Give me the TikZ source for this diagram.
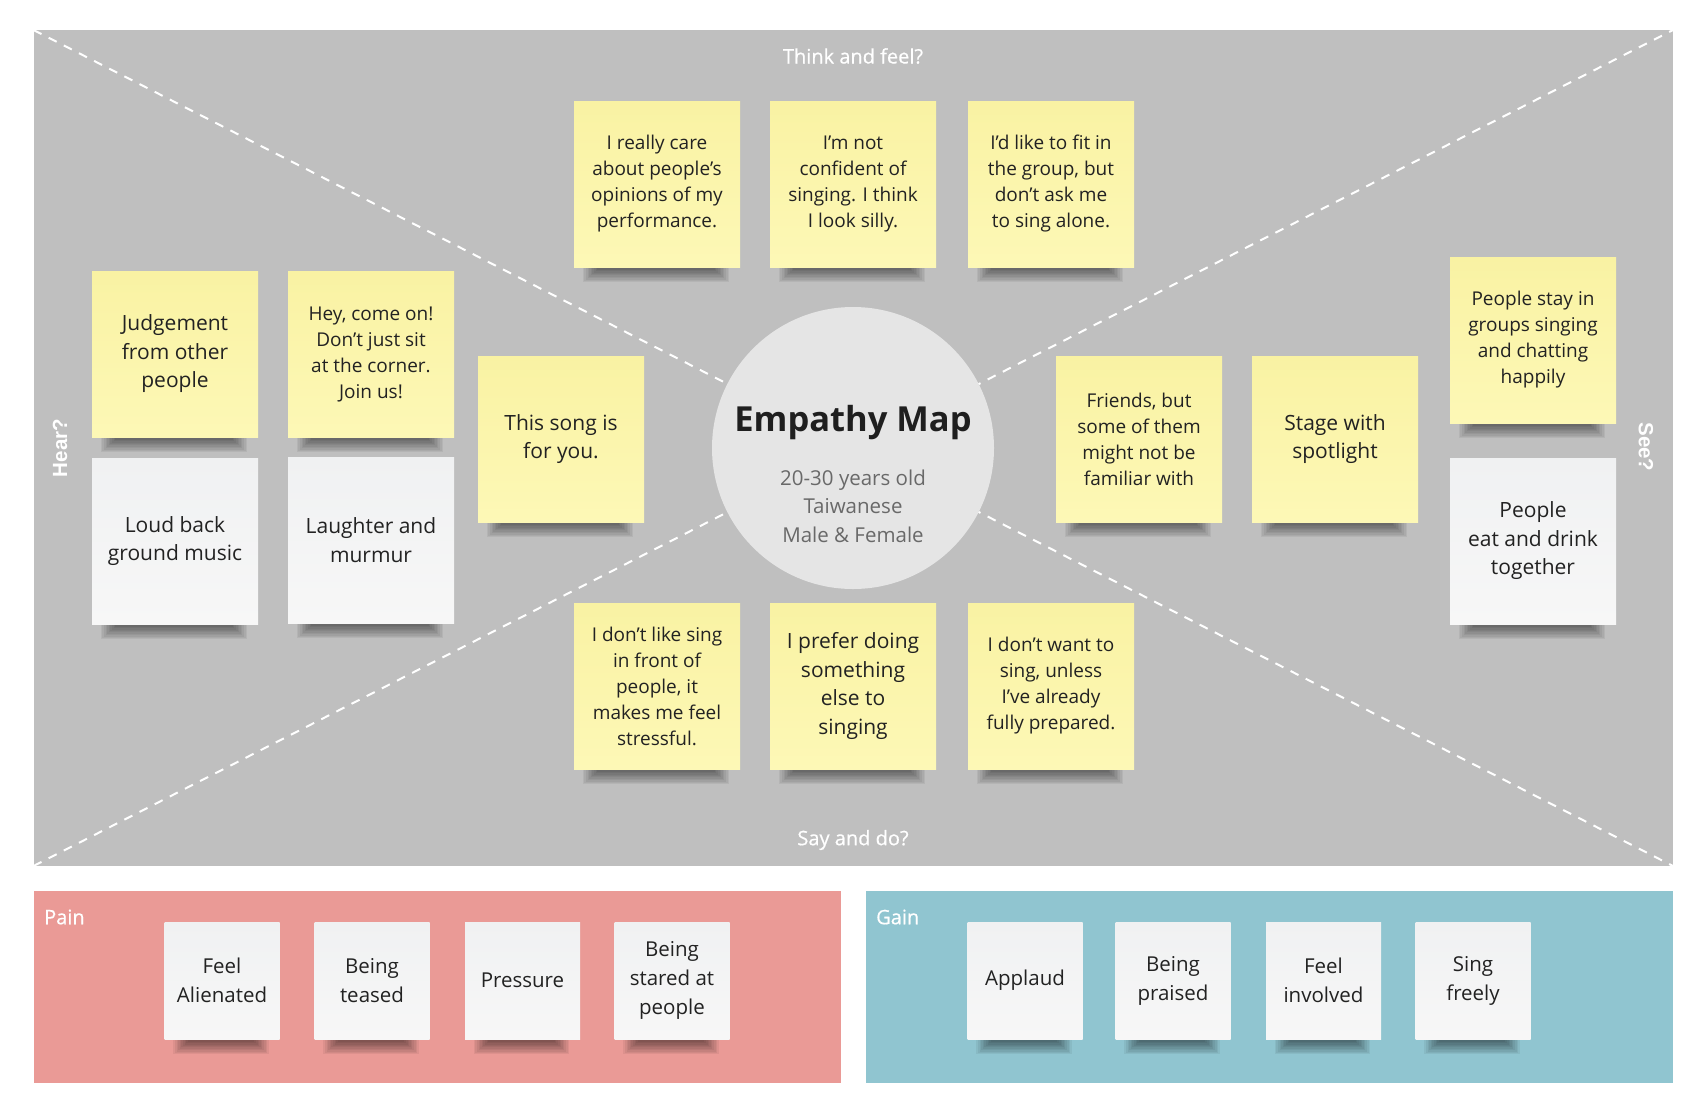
\documentclass[tikz,border=0pt]{standalone}
\usepackage{fontspec}
\setmainfont{Open Sans}
\newfontfamily\labfont{Liberation Sans}
\newfontfamily\semifont[FakeBold=0.6]{Open Sans}
\definecolor{bggray}{RGB}{191,191,191}
\definecolor{circ}{RGB}{229,229,229}
\definecolor{stickyA}{RGB}{249,242,163}
\definecolor{stickyB}{RGB}{253,248,182}
\definecolor{whiteA}{RGB}{240,241,242}
\definecolor{whiteB}{RGB}{247,247,247}
\definecolor{painc}{RGB}{234,154,150}
\definecolor{gainc}{RGB}{144,197,208}
\definecolor{ink}{RGB}{34,34,34}
\definecolor{subink}{RGB}{105,105,105}
\pgfdeclarelayer{back}
\pgfdeclarelayer{shad}
\pgfsetlayers{back,shad,main}
\newcommand\cardshadow[1]{%
  \begin{pgfonlayer}{shad}
    \foreach \i in {0,...,9}{
      \fill[black,opacity=0.055] ([xshift=9pt+\i*1.6pt]#1.south west) rectangle ([xshift=-11pt-\i*1.6pt,yshift=-15pt+\i*1.35pt]#1.south east);
    }
  \end{pgfonlayer}}
\tikzset{
  card/.style={minimum width=166pt, minimum height=166pt, inner sep=0pt, align=center, text=ink},
  yel/.style={card, top color=stickyA, bottom color=stickyB},
  wht/.style={card, top color=whiteA, bottom color=whiteB},
  sm/.style={font=\fontsize{19}{26}\selectfont},
  lg/.style={font=\fontsize{21}{28.5}\selectfont},
  mini/.style={minimum width=115pt, minimum height=117pt, inner sep=0pt, align=center, text=ink,
    top color=whiteA, bottom color=whiteB, font=\fontsize{20.5}{29}\selectfont},
  lbl/.style={text=white, font=\semifont\fontsize{20}{24}\selectfont, inner sep=0pt},
  side/.style={text=white, font=\labfont\bfseries\fontsize{20.5}{24}\selectfont, inner sep=0pt},
  diag/.style={white, line width=2pt, dash pattern=on 9pt off 8pt},
}
\begin{document}
\begin{tikzpicture}[x=1pt,y=-1pt]
\useasboundingbox (0,0) rectangle (1700,1112);
\begin{pgfonlayer}{back}
  \fill[white] (0,0) rectangle (1700,1112);
  \fill[bggray] (33.5,30) rectangle (1673,866);
  \fill[painc] (33.5,891) rectangle (841,1083);
  \fill[gainc] (866,891) rectangle (1673,1083);
  \coordinate (tl) at (33.5,30);
  \coordinate (br) at (1673,866);
  \coordinate (bl) at (33.5,866);
  \coordinate (tr) at (1673,30);
  \draw[diag] (tl) -- (br);
  \draw[diag] (bl) -- (tr);
  \node[circle, fill=circ, minimum size=282pt, inner sep=0pt] (hub) at (853,448) {};
\end{pgfonlayer}

% centre texts
\node[text=black!88, font=\bfseries\fontsize{34.5}{40}\selectfont, inner sep=0pt] (title) at (853,423) {Empathy Map};
\node[text=subink, align=center, font=\fontsize{20.5}{28.5}\selectfont, inner sep=0pt] (sub) at (853,506) {20-30 years old\\Taiwanese\\Male \& Female};

% quadrant labels
\node[lbl] (think) at (853,56) {Think and feel?};
\node[lbl] (say) at (853,840) {Say and do?};
\node[side, rotate=90] (hear) at (60,448) {Hear?};
\node[side, rotate=-90] (see) at (1646,447) {See?};
\node[lbl, anchor=west] (pain) at (44,917) {Pain};
\node[lbl, anchor=west] (gain) at (876,917) {Gain};

% think and feel
\node[yel, sm] (care) at (657,184) {I really care\\about people’s\\opinions of my\\performance.};
\node[yel, sm] (notconf) at (853,184) {I’m not\\confident of\\singing. I think\\I look silly.};
\node[yel, sm] (fitin) at (1051,184) {I’d like to fit in\\the group, but\\don’t ask me\\to sing alone.};

% say and do
\node[yel, sm] (sing) at (657,686) {I don’t like sing\\in front of\\people, it\\makes me feel\\stressful.};
\node[yel, lg] (prefer) at (853,686) {I prefer doing\\something\\else to\\singing};
\node[yel, sm] (want) at (1051,686) {I don’t want to\\sing, unless\\I’ve already\\fully prepared.};

% hear
\node[yel, lg] (judge) at (175,354) {Judgement\\from other\\people};
\node[yel, sm] (hey) at (371,354) {Hey, come on!\\Don’t just sit\\at the corner.\\Join us!};
\node[yel, lg] (song) at (561,439) {This song is\\for you.};
\node[wht, lg] (loud) at (175,541) {Loud back\\ground music};
\node[wht, lg] (laugh) at (371,540) {Laughter and\\murmur};

% see
\node[yel, sm] (friends) at (1139,439) {Friends, but\\some of them\\might not be\\familiar with};
\node[yel, lg] (stage) at (1335,439) {Stage with\\spotlight};
\node[yel, sm] (stay) at (1533,340) {People stay in\\groups singing\\and chatting\\happily};
\node[wht, lg] (eat) at (1533,541) {People\\eat and drink\\together};

% pain
\node[mini] (p1) at (222,980.5) {Feel\\Alienated};
\node[mini] (p2) at (372,980.5) {Being\\teased};
\node[mini] (p3) at (522.5,980.5) {Pressure};
\node[mini] (p4) at (672,980.5) {Being\\stared at\\people};

% gain
\node[mini] (g1) at (1025,980.5) {Applaud};
\node[mini] (g2) at (1173,980.5) {Being\\praised};
\node[mini] (g3) at (1323.5,980.5) {Feel\\involved};
\node[mini] (g4) at (1473,980.5) {Sing\\freely};

\foreach \n in {care,notconf,fitin,sing,prefer,want,judge,hey,song,loud,laugh,friends,stage,stay,eat,p1,p2,p3,p4,g1,g2,g3,g4}{
  \cardshadow{\n}
}
\end{tikzpicture}
\end{document}
